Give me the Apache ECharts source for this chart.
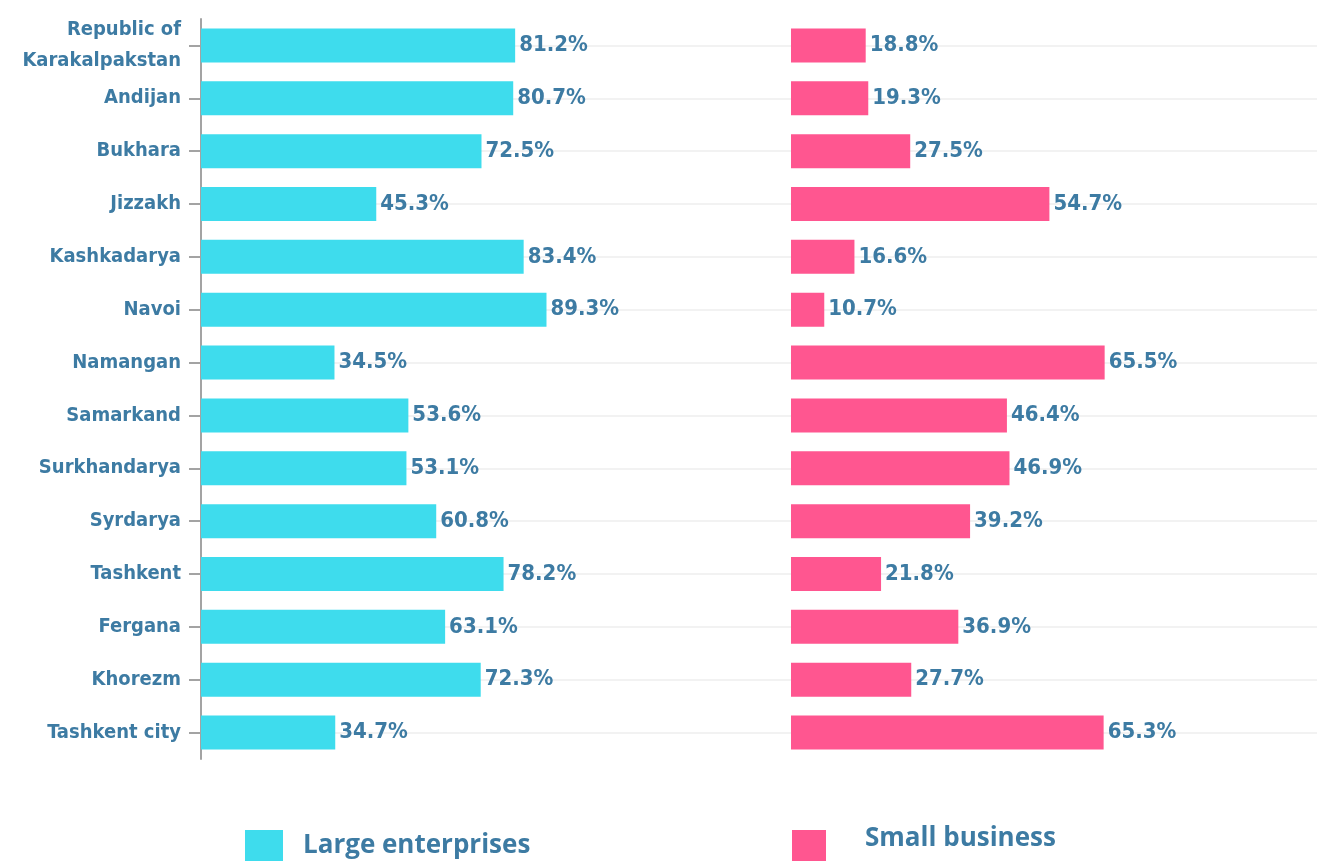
<!DOCTYPE html>
<html><head><meta charset="utf-8">
<script src="https://cdn.jsdelivr.net/npm/echarts@6/dist/echarts.min.js"></script>
<style>html,body{margin:0;padding:0;background:#fff}#c{width:1317px;height:861px}</style>
</head><body><div id="c"></div>
<script>
const categories = ["Republic of\nKarakalpakstan","Andijan","Bukhara","Jizzakh","Kashkadarya","Navoi","Namangan","Samarkand","Surkhandarya","Syrdarya","Tashkent","Fergana","Khorezm","Tashkent city"];
const largeEnterprises = [81.2,80.7,72.5,45.3,83.4,89.3,34.5,53.6,53.1,60.8,78.2,63.1,72.3,34.7];
const smallBusiness = [18.8,19.3,27.5,54.7,16.6,10.7,65.5,46.4,46.9,39.2,21.8,36.9,27.7,65.3];
const seriesNames = ["Large enterprises","Small business"];

const textColor = '#3d7ba3';
const narrow = '"Arial Narrow","Liberation Sans Narrow","DejaVu Sans Condensed",sans-serif';
const legendFont = '"Open Sans",sans-serif';
const chart = echarts.init(document.getElementById('c'));
const valLabel = {show:true, position:'right', distance:4, formatter: p => p.value.toFixed(1) + '%',
  color:textColor, fontSize:22, fontWeight:'bold', fontFamily:narrow};
chart.setOption({
  animation:false,
  grid:[{left:201, width:590, top:19, height:740, outerBoundsMode:'none', containLabel:false},
        {left:791, right:0, top:19, height:740, outerBoundsMode:'none', containLabel:false}],
  xAxis:[{gridIndex:0, type:'value', min:0, max:152.5, show:false, splitLine:{show:false}},
         {gridIndex:1, type:'value', min:4.2, max:107, show:false, splitLine:{show:false}}],
  yAxis:[{gridIndex:0, type:'category', inverse:true, data:categories,
          axisLine:{show:true, lineStyle:{color:'#a3a3a3', width:2}},
          axisTick:{show:true, alignWithLabel:true, length:12, lineStyle:{color:'#a3a3a3', width:2}},
          axisLabel:{margin:20, color:textColor, fontSize:20, fontWeight:'bold', fontFamily:narrow, lineHeight:31},
          splitLine:{show:true, alignWithLabel:true, lineStyle:{color:'#f2f2f2', width:2}}, z:1},
         {gridIndex:1, type:'category', inverse:true, data:categories,
          axisLine:{show:false}, axisTick:{show:false}, axisLabel:{show:false},
          splitLine:{show:true, alignWithLabel:true, lineStyle:{color:'#f2f2f2', width:2}}}],
  legend:[{data:[seriesNames[0]], left:245, top:830, padding:0, itemWidth:38, itemHeight:38, icon:'rect',
           formatter: n => '{t|' + n + '}',
           textStyle:{rich:{t:{color:textColor, fontSize:26, fontWeight:'bold', fontFamily:legendFont, padding:[0,0,6,15]}}}},
          {data:[seriesNames[1]], left:792, top:826, padding:0, itemWidth:34, itemHeight:38, icon:'rect',
           formatter: n => '{t|' + n + '}',
           textStyle:{rich:{t:{color:textColor, fontSize:26, fontWeight:'bold', fontFamily:legendFont, padding:[0,0,20,34]}}}}],
  series:[
    {name:seriesNames[0], type:'bar', xAxisIndex:0, yAxisIndex:0, data:largeEnterprises, barWidth:34,
     itemStyle:{color:'#3edced'}, label:valLabel},
    {name:seriesNames[1], type:'bar', xAxisIndex:1, yAxisIndex:1, data:smallBusiness, barWidth:34,
     itemStyle:{color:'#ff5690'}, label:valLabel}
  ]
});
</script></body></html>
